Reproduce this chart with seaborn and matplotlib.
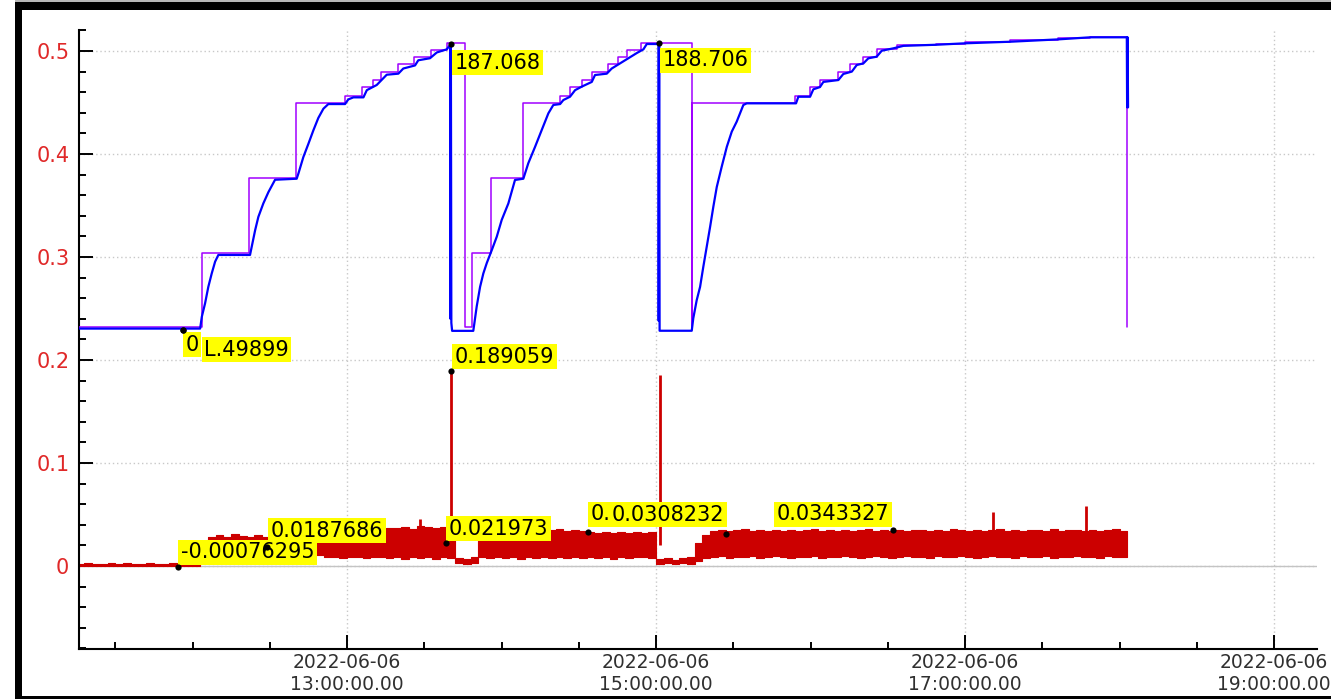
import numpy as np
import matplotlib
matplotlib.use("Agg")
import matplotlib.pyplot as plt
import seaborn as sns
from matplotlib.patches import Rectangle
from matplotlib.ticker import FixedLocator, MultipleLocator

# ----------------------------------------------------------------------
# data (time in hours of 2022-06-06)
# ----------------------------------------------------------------------
# purple: set-point, drawn as steps
purple_t = [11.265, 12.060, 12.368, 12.668, 12.987, 13.095, 13.166, 13.220, 13.332, 13.436,
            13.544, 13.645, 13.764, 13.807, 13.932, 14.137, 14.379, 14.443, 14.519, 14.588,
            14.691, 14.756, 14.810, 14.903, 15.231, 15.233, 15.900, 15.997, 16.061, 16.176,
            16.256, 16.342, 16.428, 16.558, 16.812, 17.002, 17.291, 17.604, 17.809, 18.047]
purple_v = [0.232, 0.3036, 0.377, 0.450, 0.4566, 0.4647, 0.4718, 0.480, 0.487, 0.494,
            0.501, 0.508, 0.232, 0.3036, 0.377, 0.450, 0.4566, 0.4647, 0.4718, 0.480,
            0.487, 0.494, 0.501, 0.508, 0.232, 0.450, 0.4566, 0.4647, 0.4718, 0.480,
            0.487, 0.494, 0.5016, 0.5055, 0.5068, 0.5084, 0.5104, 0.5123, 0.5139, 0.232]

# blue: measured value
blue_t = [11.265, 12.049, 12.060, 12.081, 12.102, 12.124, 12.146, 12.167, 12.372, 12.383,
          12.405, 12.426, 12.458, 12.491, 12.534, 12.674, 12.685, 12.717, 12.750, 12.782,
          12.814, 12.847, 12.879, 12.987, 13.008, 13.041, 13.106, 13.128, 13.192, 13.257,
          13.332, 13.364, 13.440, 13.461, 13.537, 13.581, 13.645, 13.667, 13.669, 13.672,
          13.675, 13.680, 13.817, 13.824, 13.839, 13.861, 13.882, 13.904, 13.937, 13.969,
          14.001, 14.044, 14.087, 14.141, 14.173, 14.217, 14.260, 14.303, 14.335, 14.379,
          14.400, 14.443, 14.476, 14.519, 14.584, 14.605, 14.681, 14.713, 14.767, 14.821,
          14.875, 14.918, 14.940, 15.015, 15.017, 15.020, 15.023, 15.231, 15.241, 15.263,
          15.285, 15.306, 15.328, 15.350, 15.371, 15.393, 15.425, 15.458, 15.490, 15.522,
          15.565, 15.587, 15.906, 15.921, 15.997, 16.018, 16.061, 16.083, 16.180, 16.212,
          16.267, 16.299, 16.342, 16.374, 16.428, 16.461, 16.536, 16.601, 16.817, 17.002,
          17.291, 17.604, 17.809, 18.047, 18.049, 18.052, 18.055]
blue_v = [0.2305, 0.2305, 0.242, 0.255, 0.271, 0.284, 0.2955, 0.302, 0.302, 0.310,
          0.326, 0.339, 0.352, 0.363, 0.375, 0.376, 0.381, 0.397, 0.410, 0.423,
          0.435, 0.444, 0.4485, 0.4485, 0.453, 0.455, 0.455, 0.462, 0.467, 0.477,
          0.478, 0.483, 0.486, 0.491, 0.493, 0.4986, 0.5016, 0.5058, 0.240, 0.5058,
          0.236, 0.2283, 0.2283, 0.2356, 0.2518, 0.271, 0.284, 0.294, 0.3068, 0.3197,
          0.336, 0.352, 0.3748, 0.376, 0.391, 0.407, 0.4233, 0.4395, 0.4476, 0.4485,
          0.4524, 0.4556, 0.462, 0.4654, 0.470, 0.4767, 0.478, 0.483, 0.488, 0.493,
          0.498, 0.5016, 0.5068, 0.5068, 0.238, 0.5068, 0.2284, 0.2284, 0.2405, 0.258,
          0.271, 0.2906, 0.310, 0.3294, 0.349, 0.368, 0.3877, 0.407, 0.4217, 0.4314,
          0.4476, 0.4492, 0.4492, 0.4556, 0.4556, 0.4628, 0.465, 0.470, 0.4718, 0.4777,
          0.480, 0.4864, 0.488, 0.4929, 0.4945, 0.5003, 0.5026, 0.505, 0.5061, 0.5075,
          0.509, 0.5113, 0.5133, 0.5133, 0.4453, 0.5133, 0.4453]

# red: noisy signal, min / max per 3 minute sample starting 11:15
red_start = 11.25
red_step = 0.05
red_lo = [0.000, 0.000, 0.000, 0.000, 0.000, 0.000, 0.000, 0.000, 0.000, 0.000,
          0.000, 0.000, 0.000, 0.000, 0.000, 0.000,
          0.012, 0.011, 0.012, 0.012, 0.011, 0.012, 0.011, 0.012, 0.012, 0.011,
          0.012, 0.011, 0.012, 0.011, 0.012, 0.011,
          0.009, 0.009, 0.008, 0.009, 0.009, 0.008, 0.009, 0.009, 0.008,
          0.009, 0.007, 0.009, 0.008, 0.009, 0.007, 0.009, 0.008,
          0.003, 0.002, 0.003,
          0.009, 0.008, 0.009, 0.008, 0.009, 0.007, 0.009, 0.008, 0.009, 0.008,
          0.009, 0.008, 0.009, 0.008,
          0.009, 0.008, 0.009, 0.007, 0.009, 0.008, 0.009, 0.009, 0.008,
          0.002, 0.003, 0.002, 0.003, 0.002,
          0.005, 0.008,
          0.009, 0.010, 0.008, 0.009, 0.009, 0.010, 0.008, 0.009, 0.010, 0.009,
          0.008, 0.009, 0.009, 0.010, 0.008, 0.009, 0.009, 0.010, 0.009, 0.008,
          0.009, 0.010, 0.009, 0.008, 0.009, 0.010, 0.009, 0.009, 0.008, 0.010,
          0.009, 0.009, 0.010, 0.009, 0.008, 0.009, 0.010, 0.009, 0.009, 0.008,
          0.010, 0.009, 0.009, 0.010, 0.008, 0.009, 0.009, 0.010, 0.009, 0.009,
          0.008, 0.010, 0.009, 0.009,
          0.009]
red_hi = [0.002, 0.003, 0.002, 0.002, 0.003, 0.002, 0.003, 0.002, 0.002, 0.003,
          0.002, 0.002, 0.003, 0.002, 0.002, 0.003,
          0.020, 0.028, 0.030, 0.028, 0.031, 0.029, 0.028, 0.030, 0.028, 0.029,
          0.027, 0.028, 0.028, 0.029, 0.028, 0.028,
          0.028, 0.030, 0.029, 0.031, 0.030, 0.033, 0.036, 0.035, 0.037,
          0.037, 0.038, 0.036, 0.039, 0.038, 0.037, 0.038, 0.035,
          0.008, 0.007, 0.009,
          0.031, 0.034, 0.035, 0.034, 0.036, 0.035, 0.034, 0.035, 0.034, 0.035,
          0.036, 0.034, 0.035, 0.034,
          0.033, 0.032, 0.033, 0.032, 0.033, 0.032, 0.033, 0.032, 0.033,
          0.007, 0.008, 0.006, 0.008, 0.009,
          0.022, 0.030,
          0.034, 0.035, 0.034, 0.035, 0.036, 0.034, 0.035, 0.034, 0.035, 0.034,
          0.035, 0.034, 0.035, 0.036, 0.034, 0.035, 0.034, 0.035, 0.034, 0.035,
          0.036, 0.034, 0.035, 0.034, 0.035, 0.034, 0.035, 0.035, 0.034, 0.035,
          0.034, 0.036, 0.035, 0.034, 0.035, 0.034, 0.035, 0.036, 0.034, 0.035,
          0.034, 0.035, 0.035, 0.034, 0.036, 0.034, 0.035, 0.035, 0.034, 0.035,
          0.034, 0.035, 0.036, 0.034,
          0.034]
spike_t = [13.676, 15.026, 13.472, 17.181, 17.783]
spike_base = [0.020, 0.020, 0.030, 0.030, 0.030]
spike_v = [0.189, 0.185, 0.046, 0.052, 0.0585]

# markers with value labels (the first marker carries two overlapping labels)
ann_t = [11.9385, 11.9385, 13.670, 15.019, 13.673, 13.641, 12.482, 11.906, 14.560, 15.453, 16.534]
ann_v = [0.2296, 0.2296, 0.5068, 0.5078, 0.1893, 0.0223, 0.0184, -0.0008, 0.0330, 0.0310, 0.0350]
ann_text = ["0", "L.49899", "187.068", "188.706", "0.189059", "0.021973", "0.0187686",
            "-0.00076295", "0.", "0.0308232", "0.0343327"]

xtick_pos = [13, 15, 17, 19]
xtick_labels = ["2022-06-06\n13:00:00.00", "2022-06-06\n15:00:00.00",
                "2022-06-06\n17:00:00.00", "2022-06-06\n19:00:00.00"]
ytick_pos = [0.0, 0.1, 0.2, 0.3, 0.4, 0.5]
ytick_labels = ["0", "0.1", "0.2", "0.3", "0.4", "0.5"]

# ----------------------------------------------------------------------
# style
# ----------------------------------------------------------------------
BLUE = "#0000ff"
PURPLE = "#a000ff"
RED = "#cc0000"
YELLOW = "#ffff00"
TICK_RED = "#e02828"

sns.set_theme(style="white")
plt.rcParams["font.family"] = ["DejaVu Sans"]

W, H = 1331, 699
fig = plt.figure(figsize=(W / 100, H / 100), dpi=100)
fig.patch.set_facecolor("white")
ax = fig.add_axes([79 / W, 1 - 649 / H, (1317 - 79) / W, (649 - 30) / H])
ax.set_facecolor("white")

# ----------------------------------------------------------------------
# plot
# ----------------------------------------------------------------------
ax.axhline(0, color="#c4c4c4", lw=1.0, zorder=1)

red_t = red_start + red_step * np.arange(len(red_lo))
ax.fill_between(red_t, red_lo, red_hi, step="post", color=RED, lw=0.8, zorder=2)
ax.vlines(spike_t, spike_base, spike_v, color=RED, lw=2.0, zorder=2)

sns.lineplot(x=purple_t, y=purple_v, drawstyle="steps-post", estimator=None, sort=False,
             color=PURPLE, lw=1.1, ax=ax, zorder=3)
sns.lineplot(x=blue_t, y=blue_v, estimator=None, sort=False,
             color=BLUE, lw=1.6, ax=ax, zorder=4)

# value labels (offsets in pixels, ha, va)
placement = [(2.5, -5, "left", "top"), (21, -10, "left", "top"),
             (4, -8.5, "left", "top"), (3.5, -7.5, "left", "top"),
             (3.5, 4.5, "left", "bottom"), (2.5, 4.5, "left", "bottom"),
             (3.5, 6.5, "left", "bottom"), (2.5, 4.5, "left", "bottom"),
             (2.5, 7.5, "left", "bottom"), (-1.5, 9.5, "right", "bottom"),
             (-3.5, 5.5, "right", "bottom")]
for t, v, txt, (dx, dy, ha, va) in zip(ann_t, ann_v, ann_text, placement):
    ax.annotate(txt, xy=(t, v), xytext=(dx, dy), textcoords="offset pixels",
                ha=ha, va=va, fontsize=15, color="black", zorder=6,
                bbox=dict(boxstyle="square,pad=0.12", fc=YELLOW, ec="none"))
sns.scatterplot(x=ann_t, y=ann_v, color="black", s=20, linewidth=0, ax=ax, zorder=8)

# ----------------------------------------------------------------------
# axes
# ----------------------------------------------------------------------
ax.set_xlim(11.265, 19.278)
ax.set_ylim(-0.0806, 0.5204)
ax.xaxis.set_major_locator(FixedLocator(xtick_pos))
ax.set_xticklabels(xtick_labels)
ax.xaxis.set_minor_locator(MultipleLocator(0.5))
ax.yaxis.set_major_locator(FixedLocator(ytick_pos))
ax.set_yticklabels(ytick_labels)
ax.yaxis.set_minor_locator(MultipleLocator(0.02))

ax.tick_params(which="both", direction="in", width=1.4, color="black",
               left=True, bottom=True)
ax.tick_params(which="major", length=10)
ax.tick_params(which="minor", length=5)
ax.tick_params(axis="y", labelsize=15, labelcolor=TICK_RED, pad=7)
ax.tick_params(axis="x", labelsize=13.5, labelcolor="#303030", pad=3)

ax.grid(which="major", color="#c8c8c8", ls=(0, (1, 2)), lw=1.0)
ax.set_axisbelow(True)
for side in ["top", "right"]:
    ax.spines[side].set_visible(False)
for side in ["left", "bottom"]:
    ax.spines[side].set_color("black")
    ax.spines[side].set_linewidth(1.5)
ax.set_xlabel("")
ax.set_ylabel("")

# window frame
fig.add_artist(Rectangle((15 / W, 0), 7 / W, 1 - 9 / H, transform=fig.transFigure,
                         color="black", lw=0))
fig.add_artist(Rectangle((15 / W, 1 - 10 / H), 1 - 15 / W, 8 / H, transform=fig.transFigure,
                         color="black", lw=0))
fig.add_artist(Rectangle((15 / W, 0), 1 - 15 / W, 3 / H, transform=fig.transFigure,
                         color="black", lw=0))
fig.add_artist(Rectangle((15 / W, 1 - 2 / H), 1 - 15 / W, 2 / H, transform=fig.transFigure,
                         color="#b8b8b8", lw=0))

fig.savefig("out.png", dpi=100)
